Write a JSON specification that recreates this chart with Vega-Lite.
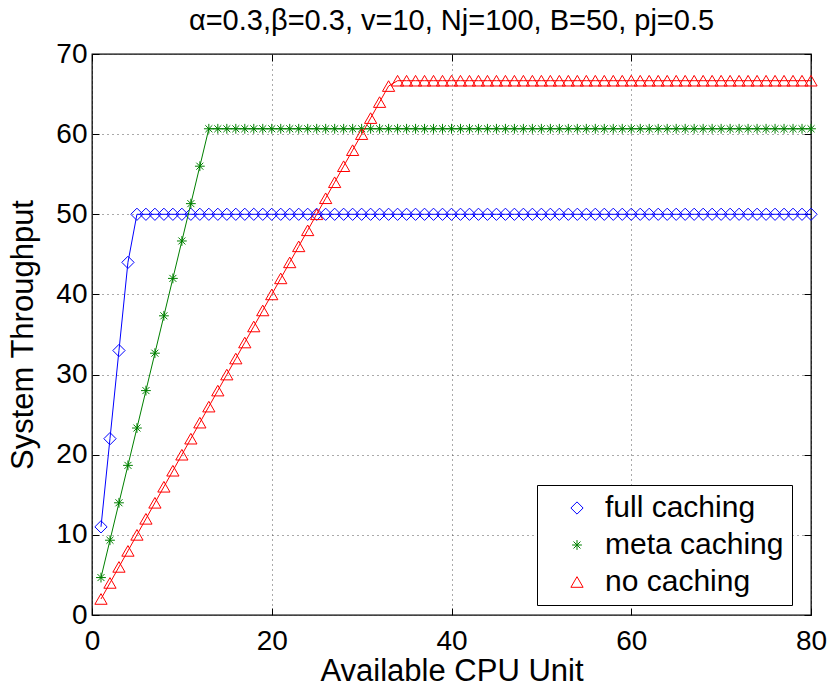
{
"$schema": "https://vega.github.io/schema/vega-lite/v6.json",
"width": 719, "height": 561,
"autosize": {"type": "none"},
"padding": {"left": 92, "top": 54, "right": 19, "bottom": 73},
"background": "white",
"title": {"text": "α=0.3,β=0.3, v=10, Nj=100, B=50, pj=0.5", "fontSize": 29, "font": "Liberation Sans", "fontWeight": "normal", "color": "black", "offset": 4},
"config": {
  "view": {"stroke": "black", "strokeWidth": 1.3},
  "font": "Liberation Sans",
  "axis": {"domain": false, "tickColor": "black", "tickSize": -7, "labelFlush": false, "labelColor": "black", "labelFont": "Liberation Sans", "labelFontSize": 28, "titleFont": "Liberation Sans", "titleFontSize": 31, "titleFontWeight": "normal", "titleColor": "black", "gridColor": "#555", "gridDash": [1, 4], "gridWidth": 1, "gridOpacity": 1}
},
"data": {"values": [
{"x":1,"full caching":11,"meta caching":4.67,"no caching":2},
{"x":2,"full caching":22,"meta caching":9.33,"no caching":4},
{"x":3,"full caching":33,"meta caching":14,"no caching":6},
{"x":4,"full caching":44,"meta caching":18.67,"no caching":8},
{"x":5,"full caching":50,"meta caching":23.33,"no caching":10},
{"x":6,"full caching":50,"meta caching":28,"no caching":12},
{"x":7,"full caching":50,"meta caching":32.67,"no caching":14},
{"x":8,"full caching":50,"meta caching":37.33,"no caching":16},
{"x":9,"full caching":50,"meta caching":42,"no caching":18},
{"x":10,"full caching":50,"meta caching":46.67,"no caching":20},
{"x":11,"full caching":50,"meta caching":51.33,"no caching":22},
{"x":12,"full caching":50,"meta caching":56,"no caching":24},
{"x":13,"full caching":50,"meta caching":60.67,"no caching":26},
{"x":14,"full caching":50,"meta caching":60.67,"no caching":28},
{"x":15,"full caching":50,"meta caching":60.67,"no caching":30},
{"x":16,"full caching":50,"meta caching":60.67,"no caching":32},
{"x":17,"full caching":50,"meta caching":60.67,"no caching":34},
{"x":18,"full caching":50,"meta caching":60.67,"no caching":36},
{"x":19,"full caching":50,"meta caching":60.67,"no caching":38},
{"x":20,"full caching":50,"meta caching":60.67,"no caching":40},
{"x":21,"full caching":50,"meta caching":60.67,"no caching":42},
{"x":22,"full caching":50,"meta caching":60.67,"no caching":44},
{"x":23,"full caching":50,"meta caching":60.67,"no caching":46},
{"x":24,"full caching":50,"meta caching":60.67,"no caching":48},
{"x":25,"full caching":50,"meta caching":60.67,"no caching":50},
{"x":26,"full caching":50,"meta caching":60.67,"no caching":52},
{"x":27,"full caching":50,"meta caching":60.67,"no caching":54},
{"x":28,"full caching":50,"meta caching":60.67,"no caching":56},
{"x":29,"full caching":50,"meta caching":60.67,"no caching":58},
{"x":30,"full caching":50,"meta caching":60.67,"no caching":60},
{"x":31,"full caching":50,"meta caching":60.67,"no caching":62},
{"x":32,"full caching":50,"meta caching":60.67,"no caching":64},
{"x":33,"full caching":50,"meta caching":60.67,"no caching":66},
{"x":34,"full caching":50,"meta caching":60.67,"no caching":66.67},
{"x":35,"full caching":50,"meta caching":60.67,"no caching":66.67},
{"x":36,"full caching":50,"meta caching":60.67,"no caching":66.67},
{"x":37,"full caching":50,"meta caching":60.67,"no caching":66.67},
{"x":38,"full caching":50,"meta caching":60.67,"no caching":66.67},
{"x":39,"full caching":50,"meta caching":60.67,"no caching":66.67},
{"x":40,"full caching":50,"meta caching":60.67,"no caching":66.67},
{"x":41,"full caching":50,"meta caching":60.67,"no caching":66.67},
{"x":42,"full caching":50,"meta caching":60.67,"no caching":66.67},
{"x":43,"full caching":50,"meta caching":60.67,"no caching":66.67},
{"x":44,"full caching":50,"meta caching":60.67,"no caching":66.67},
{"x":45,"full caching":50,"meta caching":60.67,"no caching":66.67},
{"x":46,"full caching":50,"meta caching":60.67,"no caching":66.67},
{"x":47,"full caching":50,"meta caching":60.67,"no caching":66.67},
{"x":48,"full caching":50,"meta caching":60.67,"no caching":66.67},
{"x":49,"full caching":50,"meta caching":60.67,"no caching":66.67},
{"x":50,"full caching":50,"meta caching":60.67,"no caching":66.67},
{"x":51,"full caching":50,"meta caching":60.67,"no caching":66.67},
{"x":52,"full caching":50,"meta caching":60.67,"no caching":66.67},
{"x":53,"full caching":50,"meta caching":60.67,"no caching":66.67},
{"x":54,"full caching":50,"meta caching":60.67,"no caching":66.67},
{"x":55,"full caching":50,"meta caching":60.67,"no caching":66.67},
{"x":56,"full caching":50,"meta caching":60.67,"no caching":66.67},
{"x":57,"full caching":50,"meta caching":60.67,"no caching":66.67},
{"x":58,"full caching":50,"meta caching":60.67,"no caching":66.67},
{"x":59,"full caching":50,"meta caching":60.67,"no caching":66.67},
{"x":60,"full caching":50,"meta caching":60.67,"no caching":66.67},
{"x":61,"full caching":50,"meta caching":60.67,"no caching":66.67},
{"x":62,"full caching":50,"meta caching":60.67,"no caching":66.67},
{"x":63,"full caching":50,"meta caching":60.67,"no caching":66.67},
{"x":64,"full caching":50,"meta caching":60.67,"no caching":66.67},
{"x":65,"full caching":50,"meta caching":60.67,"no caching":66.67},
{"x":66,"full caching":50,"meta caching":60.67,"no caching":66.67},
{"x":67,"full caching":50,"meta caching":60.67,"no caching":66.67},
{"x":68,"full caching":50,"meta caching":60.67,"no caching":66.67},
{"x":69,"full caching":50,"meta caching":60.67,"no caching":66.67},
{"x":70,"full caching":50,"meta caching":60.67,"no caching":66.67},
{"x":71,"full caching":50,"meta caching":60.67,"no caching":66.67},
{"x":72,"full caching":50,"meta caching":60.67,"no caching":66.67},
{"x":73,"full caching":50,"meta caching":60.67,"no caching":66.67},
{"x":74,"full caching":50,"meta caching":60.67,"no caching":66.67},
{"x":75,"full caching":50,"meta caching":60.67,"no caching":66.67},
{"x":76,"full caching":50,"meta caching":60.67,"no caching":66.67},
{"x":77,"full caching":50,"meta caching":60.67,"no caching":66.67},
{"x":78,"full caching":50,"meta caching":60.67,"no caching":66.67},
{"x":79,"full caching":50,"meta caching":60.67,"no caching":66.67},
{"x":80,"full caching":50,"meta caching":60.67,"no caching":66.67}
]},
"transform": [{"fold": ["full caching", "meta caching", "no caching"], "as": ["s", "y"]}],
"resolve": {"axis": {"x": "independent", "y": "independent"}},
"layer": [
  {
    "mark": {"type": "point", "filled": false, "strokeWidth": 1, "opacity": 1, "size": 150, "clip": false},
    "encoding": {
      "x": {"field": "x", "type": "quantitative", "scale": {"domain": [0, 80], "nice": false}, "axis": {"orient": "bottom", "values": [0, 20, 40, 60, 80], "grid": true, "labelPadding": 19, "title": "Available CPU Unit", "titlePadding": 1}},
      "y": {"field": "y", "type": "quantitative", "scale": {"domain": [0, 70], "nice": false}, "axis": {"orient": "left", "values": [0, 10, 20, 30, 40, 50, 60, 70], "grid": true, "labelPadding": 12, "title": "System Throughput", "titlePadding": 16}},
      "color": {"field": "s", "type": "nominal", "scale": {"domain": ["full caching", "meta caching", "no caching"], "range": ["#0000ff", "#008000", "#ff0000"]}, "legend": {
        "orient": "none", "legendX": 445, "legendY": 431, "title": null,
        "labelFontSize": 30, "labelFont": "Liberation Sans", "labelColor": "black", "labelLimit": 400,
        "strokeColor": "black", "fillColor": "white", "padding": 8,
        "symbolSize": 150, "symbolStrokeWidth": 1, "symbolOffset": 17, "labelOffset": 13, "rowPadding": 7
      }},
      "shape": {"field": "s", "type": "nominal", "scale": {"domain": ["full caching", "meta caching", "no caching"], "range": ["diamond", "M-0.8,0L0.8,0M0,-0.8L0,0.8M-0.57,-0.57L0.57,0.57M-0.57,0.57L0.57,-0.57", "triangle-up"]}, "legend": null}
    }
  },
  {
    "mark": {"type": "line", "strokeWidth": 1, "clip": false},
    "encoding": {
      "x": {"field": "x", "type": "quantitative", "axis": {"orient": "top", "values": [0, 20, 40, 60, 80], "labels": false, "grid": false, "title": null}},
      "y": {"field": "y", "type": "quantitative", "axis": {"orient": "right", "values": [0, 10, 20, 30, 40, 50, 60, 70], "labels": false, "grid": false, "title": null}},
      "color": {"field": "s", "type": "nominal"},
      "detail": {"field": "s"}
    }
  }
]
}
